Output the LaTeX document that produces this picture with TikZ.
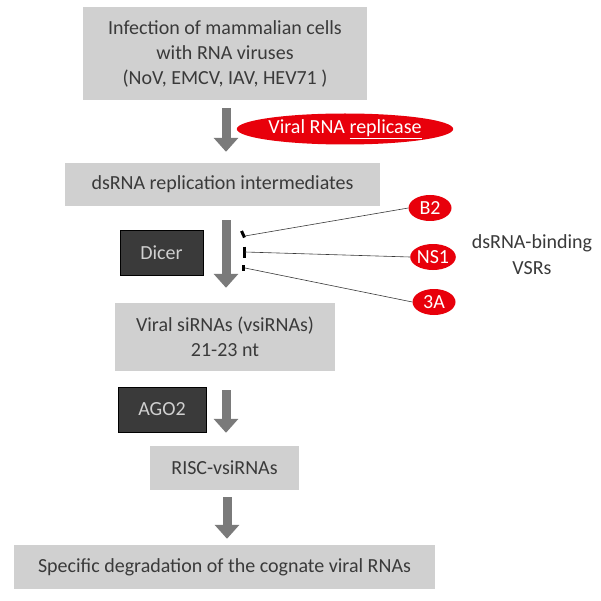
\documentclass[tikz,border=0pt]{standalone}
\usepackage{fontspec}
\setmainfont{Carlito}
\usetikzlibrary{arrows.meta,shapes.geometric}
\definecolor{boxgray}{HTML}{D0D0D0}
\definecolor{txtgray}{HTML}{3A3A3A}
\definecolor{arrgray}{HTML}{7A7A7A}
\definecolor{darkbox}{HTML}{3A3A3A}
\definecolor{vred}{HTML}{E8000B}
\tikzset{
  graybox/.style={fill=boxgray, draw=none, text=txtgray, align=center, inner sep=0pt,
    font=\fontsize{20}{25}\selectfont},
  darkbox/.style={fill=darkbox, draw=black, line width=0.6pt, text=boxgray, inner sep=0pt,
    font=\fontsize{20}{24}\selectfont},
  redell/.style={ellipse, fill=vred, draw=none, text=white, inner sep=0pt,
    font=\fontsize{20}{24}\selectfont},
  bigarrow/.style={draw=arrgray, line width=9pt, -{Triangle[length=14pt,width=24pt]}},
  link/.style={draw=txtgray, line width=0.6pt},
  bindmark/.style={draw=black, line width=3pt}
}
\begin{document}
\begin{tikzpicture}[x=1pt,y=-1pt]
\useasboundingbox (0,0) rectangle (600,601);
\fill[white] (0,0) rectangle (600,601);
% boxes
\node[graybox, minimum width=284pt, minimum height=93pt] (b1) at (225,53.5)
  {Infection of mammalian cells\\with RNA viruses\\(NoV, EMCV, IAV, HEV71 )};
\node[graybox, minimum width=315pt, minimum height=43pt] (b2) at (222.5,184.5)
  {dsRNA replication intermediates};
\node[graybox, minimum width=220pt, minimum height=68pt] (b3) at (225,337)
  {Viral siRNAs (vsiRNAs)\\21-23 nt};
\node[graybox, minimum width=149pt, minimum height=44pt] (b4) at (224.5,468)
  {RISC-vsiRNAs};
\node[graybox, minimum width=421pt, minimum height=44pt] (b5) at (224.5,567)
  {Specific degradation of the cognate viral RNAs};
% dark boxes
\node[darkbox, minimum width=83pt, minimum height=45pt] (dicer) at (161.5,252.5) {Dicer};
\node[darkbox, minimum width=88pt, minimum height=45pt] (ago) at (162,409.5) {AGO2};
% red ellipses
\node[redell, minimum width=216pt, minimum height=31pt] (rep) at (345,129)
  {Viral RNA \underline{replicase}};
\node[redell, minimum width=43pt, minimum height=26pt] (b2v) at (430,208) {B2};
\node[redell, minimum width=43pt, minimum height=26pt] (ns1) at (433,257) {NS1};
\node[redell, minimum width=43pt, minimum height=26pt] (a3) at (434,302) {3A};
\node[text=txtgray, align=center, font=\fontsize{20}{26}\selectfont] (vsr) at (532,255)
  {dsRNA-binding\\VSRs};
% big arrows
\draw[bigarrow, shorten <=8pt, shorten >=11pt] (b1.south) ++(1,0) coordinate (a1s) -- (a1s |- b2.north);
\draw[bigarrow, shorten <=14pt, shorten >=15pt] (b2.south) ++(3.5,0) coordinate (a2s) -- (a2s |- b3.north);
\draw[bigarrow, shorten <=19pt, shorten >=13pt] (b3.south) ++(1,0) coordinate (a3s) -- (a3s |- b4.north);
\draw[bigarrow, shorten <=7pt, shorten >=6pt] (b4.south) ++(2.5,0) coordinate (a4s) -- (a4s |- b5.north);
% binding marks
\coordinate (m1) at (245,236);
\coordinate (m2) at (245,252);
\coordinate (m3) at (245,268);
\draw[bindmark] (241.5,231) -- (244.5,237.5);
\draw[bindmark] (244,246.5) -- (244,258);
\draw[bindmark] (243.5,265) -- (243.5,271);
\draw[link] (m1) -- (b2v.west);
\draw[link] (m2) -- (ns1.west);
\draw[link] (m3) -- (a3.west);
\end{tikzpicture}
\end{document}
